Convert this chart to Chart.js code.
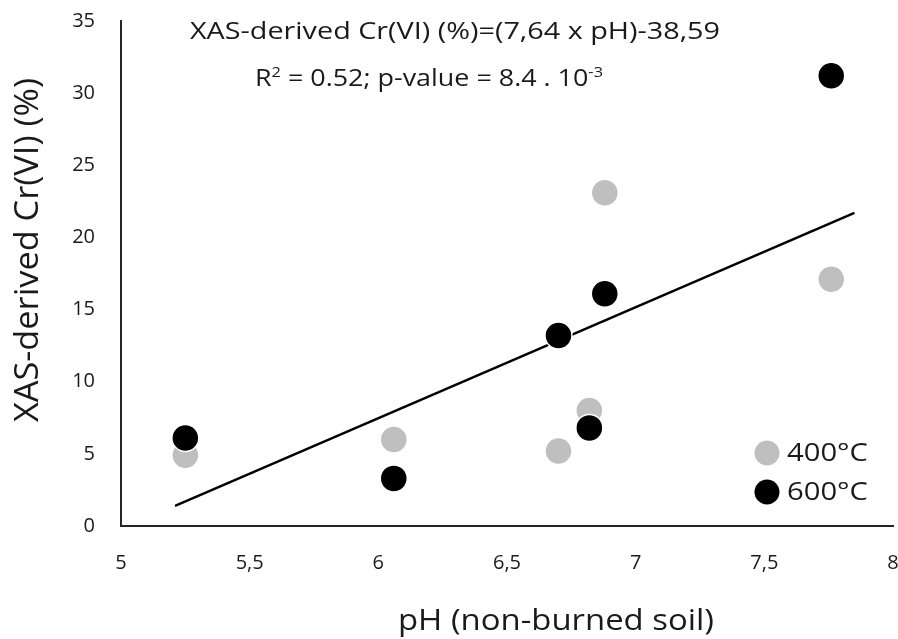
<!DOCTYPE html>
<html>
<head>
<meta charset="utf-8">
<script src="https://cdn.jsdelivr.net/npm/chart.js@4.4.1/dist/chart.umd.min.js"></script>
<style>
  html, body { margin: 0; padding: 0; background: #fff; }
</style>
</head>
<body>
<canvas id="crChart" width="898" height="639"></canvas>
<script>
// pH of the non-burned soil vs XAS-derived Cr(VI) share after heating
const ph400 = [5.25, 6.06, 6.70, 6.82, 6.88, 7.76];
const cr400 = [4.9, 6.0, 5.2, 8.0, 23.1, 17.1];
const ph600 = [5.25, 6.06, 6.70, 6.82, 6.88, 7.76];
const cr600 = [6.1, 3.3, 13.2, 6.8, 16.1, 31.2];
const trendPh = [5.21, 7.85];
const trendCr = [1.4, 21.7];
const xTickLabels = ["5", "5,5", "6", "6,5", "7", "7,5", "8"];
const xTitle = "pH (non-burned soil)";
const yTitle = "XAS-derived Cr(VI) (%)";

const toPoints = (xs, ys) => xs.map((x, i) => ({ x: x, y: ys[i] }));
const FONT = "'Open Sans', 'DejaVu Sans', sans-serif";
const INK = "#1a1a1a";

// draw text pieces [text, dy, size] stretched to a given width
function stretchedText(c, parts, x, y, width) {
  let w = 0;
  parts.forEach(p => { c.font = p[2] + "px " + FONT; w += c.measureText(p[0]).width; });
  c.save();
  c.translate(x, y);
  c.scale(width / w, 1);
  let cx = 0;
  parts.forEach(p => {
    c.font = p[2] + "px " + FONT;
    c.fillText(p[0], cx, p[1]);
    cx += c.measureText(p[0]).width;
  });
  c.restore();
}

// axis titles, equation text and legend (the reference places them off-centre)
const notes = {
  id: "notes",
  afterDraw(chart) {
    const c = chart.ctx;
    const a = chart.chartArea;
    c.save();
    c.fillStyle = INK;
    c.textBaseline = "alphabetic";
    c.textAlign = "left";

    stretchedText(c, [["XAS-derived Cr(VI) (%)=(7,64 x pH)-38,59", 0, 23]], a.left + 69, 39, 530);
    stretchedText(c, [
      ["R", 0, 23], ["2", -9, 14], [" = 0.52; p-value = 8.4 . 10", 0, 23], ["-3", -9, 14]
    ], a.left + 134, 86, 348);

    // axis titles
    stretchedText(c, [[xTitle, 0, 29]], a.left + 277, a.bottom + 104, 316);
    c.save();
    c.translate(38, a.bottom - 104);
    c.rotate(-Math.PI / 2);
    stretchedText(c, [[yTitle, 0, 33]], 0, 0, 344);
    c.restore();

    // legend
    const ds = chart.data.datasets.slice(0, 2);
    ds.forEach((d, i) => {
      const cx = a.right - 126;
      const cy = a.bottom - 73 + i * 39;
      c.beginPath();
      c.arc(cx, cy, 12.5, 0, Math.PI * 2);
      c.fillStyle = d.backgroundColor;
      c.fill();
      c.fillStyle = INK;
      c.textBaseline = "middle";
      stretchedText(c, [[d.label, 0, 26]], cx + 20, cy + 1, 81);
    });
    c.restore();
  }
};

new Chart(document.getElementById("crChart"), {
  type: "scatter",
  data: {
    datasets: [
      {
        label: "400°C",
        data: toPoints(ph400, cr400),
        backgroundColor: "#bfbfbf",
        borderColor: "#ffffff",
        borderWidth: 1.5,
        pointRadius: 13.5,
        order: 1
      },
      {
        label: "600°C",
        data: toPoints(ph600, cr600),
        backgroundColor: "#000000",
        borderColor: "#ffffff",
        borderWidth: 1.5,
        pointRadius: 13.5,
        order: 0
      },
      {
        type: "line",
        label: "trend",
        data: toPoints(trendPh, trendCr),
        borderColor: "#000000",
        borderWidth: 2.5,
        pointRadius: 0,
        fill: false,
        order: 2
      }
    ]
  },
  options: {
    responsive: false,
    animation: false,
    layout: { autoPadding: false, padding: { left: 0, top: 21, right: 5, bottom: 0 } },
    plugins: {
      legend: { display: false },
      tooltip: { enabled: false }
    },
    scales: {
      x: {
        type: "linear",
        min: 5,
        max: 8,
        ticks: {
          stepSize: 0.5,
          padding: 25,
          color: INK,
          font: { family: FONT, size: 20 },
          callback: (v, i) => xTickLabels[i]
        },
        grid: { display: false, drawTicks: false },
        border: { display: true, color: "#262626", width: 2 },
        title: { display: false, text: xTitle },
        afterFit: s => { s.height = 113; s.paddingLeft = 0; s.paddingRight = 0; }
      },
      y: {
        min: 0,
        max: 35,
        ticks: {
          stepSize: 5,
          padding: 26,
          color: INK,
          font: { family: FONT, size: 20 }
        },
        grid: { display: false, drawTicks: false },
        border: { display: true, color: "#262626", width: 2 },
        title: { display: false, text: yTitle },
        afterFit: s => { s.width = 121; s.paddingTop = 0; s.paddingBottom = 0; }
      }
    }
  },
  plugins: [notes]
});
</script>
</body>
</html>
